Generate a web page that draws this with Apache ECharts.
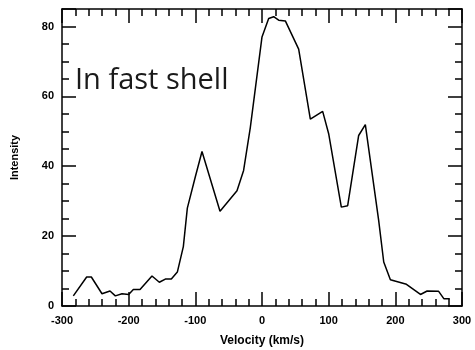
<!DOCTYPE html>
<html><head><meta charset="utf-8">
<script src="https://cdn.jsdelivr.net/npm/echarts@6/dist/echarts.min.js"></script>
<style>html,body{margin:0;padding:0;background:#fff}#c{width:475px;height:350px}</style>
</head><body><div id="c"></div>
<script>
const velocities = [-283,-263,-256,-240,-228,-220,-210,-200,-193,-183,-165,-154,-145,-136,-127,-118,-112,-100,-90,-63,-37.5,-27.6,-17.6,0,10,17.5,25,35,55,72.5,91,100,119,128.5,145,155,175,182.6,192.6,216.7,237.7,247.7,265,272.7,281.7];
const intensities = [2.9,8.3,8.3,3.5,4.3,2.9,3.5,3.3,4.7,4.7,8.6,6.8,7.7,7.7,9.7,17,28,37,44.2,27.1,33,38.8,51,77,82.3,82.8,81.8,81.6,73.5,53.5,55.7,49.3,28.3,28.7,48.8,51.9,24.5,12.6,7.5,6.2,3.3,4.3,4.2,2.1,2.1];
const xTicks = [-300,-200,-100,0,100,200,300];
const yTicks = [0,20,40,60,80];
const annotation = 'In fast shell';

const chart = echarts.init(document.getElementById('c'));
const axisLineStyle = {color:'#000', width:1.5};
const labelFont = {fontFamily:'Liberation Sans, Arial', fontWeight:'bold', fontSize:11, color:'#000'};
const xBase = {type:'value', min:-300, max:300, interval:100,
  axisLine:{onZero:false, lineStyle:axisLineStyle},
  axisTick:{inside:true, length:14, lineStyle:{color:'#000', width:1.5}},
  minorTick:{show:true, splitNumber:5, length:7, lineStyle:{color:'#000', width:1.5}},
  splitLine:{show:false}, minorSplitLine:{show:false}};
const yBase = {type:'value', min:0, max:85, interval:20,
  axisLine:{onZero:false, lineStyle:axisLineStyle},
  axisTick:{inside:true, length:14, lineStyle:{color:'#000', width:1.5}},
  minorTick:{show:true, splitNumber:4, length:7, lineStyle:{color:'#000', width:1.5}},
  splitLine:{show:false}, minorSplitLine:{show:false}};
chart.setOption({
  animation:false,
  grid:{left:62, right:13, top:9, bottom:44, containLabel:false, outerBoundsMode:'none'},
  xAxis:[
    Object.assign({}, xBase, {position:'bottom',
      axisLabel:Object.assign({margin:9, formatter:v=>xTicks.includes(v)?String(v):''}, labelFont),
      name:'Velocity (km/s)', nameLocation:'middle', nameGap:29,
      nameTextStyle:{fontFamily:'Liberation Sans, Arial', fontWeight:'bold', fontSize:12, color:'#000'}}),
    Object.assign({}, xBase, {position:'top', axisLabel:{show:false}})
  ],
  yAxis:[
    Object.assign({}, yBase, {position:'left',
      axisLabel:Object.assign({margin:8, showMaxLabel:false, formatter:v=>yTicks.includes(v)?String(v):''}, labelFont),
      name:'Intensity', nameLocation:'middle', nameGap:42,
      nameTextStyle:{fontFamily:'Liberation Sans, Arial', fontWeight:'bold', fontSize:11, color:'#000'}}),
    Object.assign({}, yBase, {position:'right', axisLabel:{show:false}})
  ],
  graphic:[{type:'text', left:75, top:66, style:{text:annotation, font:'29px "Open Sans"', fill:'#1a1a1a'}}],
  series:[{type:'line', data:velocities.map((v,i)=>[v,intensities[i]]), symbol:'none',
    lineStyle:{color:'#000', width:1.5}}]
});
</script></body></html>
